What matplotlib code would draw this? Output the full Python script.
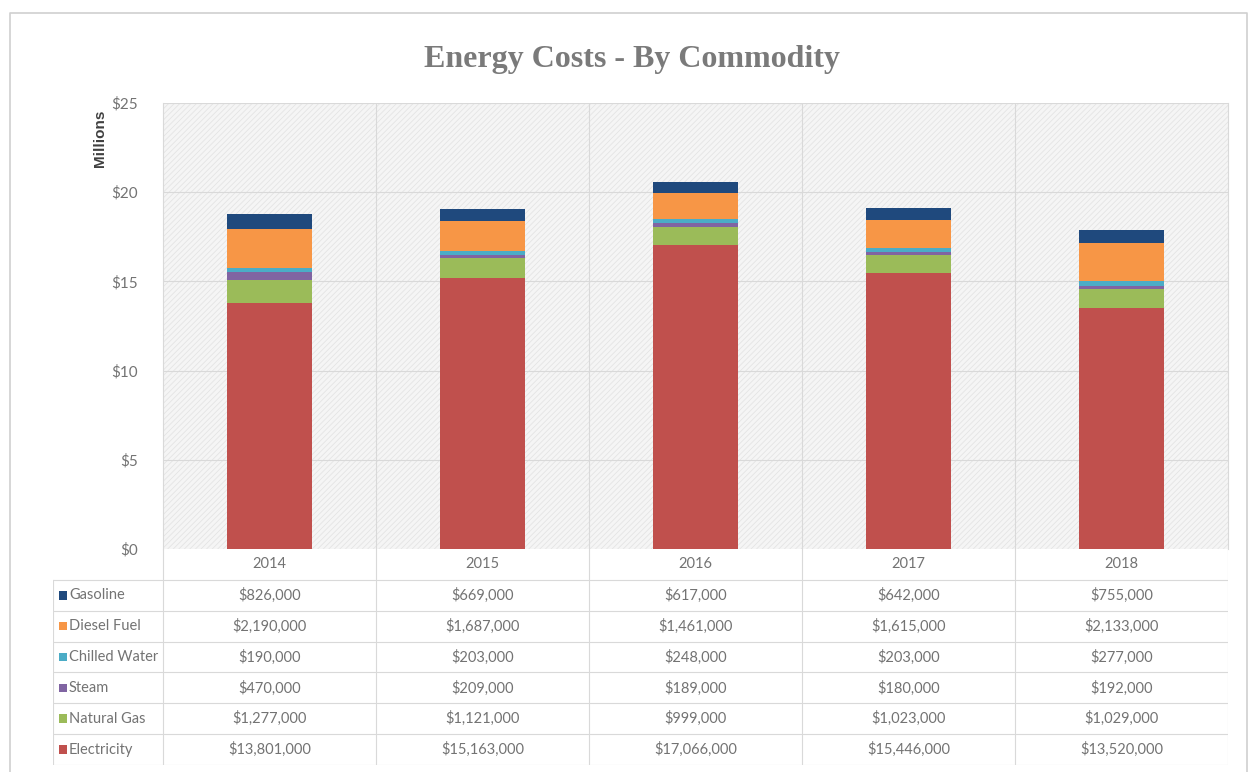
import numpy as np
import matplotlib.pyplot as plt
from matplotlib.patches import Rectangle

plt.rcParams['font.family'] = ['Lato', 'DejaVu Sans']
plt.rcParams['hatch.linewidth'] = 0.6

years = ['2014', '2015', '2016', '2017', '2018']
electricity = [13801000, 15163000, 17066000, 15446000, 13520000]
natural_gas = [1277000, 1121000, 999000, 1023000, 1029000]
steam = [470000, 209000, 189000, 180000, 192000]
chilled_water = [190000, 203000, 248000, 203000, 277000]
diesel_fuel = [2190000, 1687000, 1461000, 1615000, 2133000]
gasoline = [826000, 669000, 617000, 642000, 755000]

# stacking order, bottom to top
series = [
    ('Electricity', electricity, '#C0504D'),
    ('Natural Gas', natural_gas, '#9BBB59'),
    ('Steam', steam, '#8064A2'),
    ('Chilled Water', chilled_water, '#4BACC6'),
    ('Diesel Fuel', diesel_fuel, '#F79646'),
    ('Gasoline', gasoline, '#1F497D'),
]

W, H = 1252, 772
fig = plt.figure(figsize=(W / 100, H / 100), dpi=100)


def box(x0, y0, x1, y1):
    # pixel box (top-left origin) -> figure rect
    return [x0 / W, 1 - y1 / H, (x1 - x0) / W, (y1 - y0) / H]


grid_c = '#d9d9d9'
text_c = '#737373'

# outer chart border
border = fig.add_axes([0, 0, 1, 1], zorder=-5)
border.set_xlim(0, W)
border.set_ylim(H, 0)
border.axis('off')
border.plot([10, 10, 1247, 1247], [790, 13, 13, 790], color='#d0d0d0', lw=1.2)

# bar chart
ax = fig.add_axes(box(163, 103, 1228, 549))
x = np.arange(len(years))
ax.add_patch(Rectangle((0, 0), 1, 1, transform=ax.transAxes, facecolor='#f5f5f5',
                       edgecolor='#e4e4e4', hatch='//////', lw=0, zorder=0))
bottom = np.zeros(len(years))
for name, vals, col in series:
    v = np.array(vals) / 1e6
    ax.bar(x, v, width=0.4, bottom=bottom, color=col, zorder=3)
    bottom += v

ax.set_xlim(-0.5, len(years) - 0.5)
ax.set_ylim(0, 25)
ax.set_yticks(np.arange(0, 26, 5))
ax.set_yticklabels(['$%d' % t for t in range(0, 26, 5)], color=text_c, fontsize=11)
ax.tick_params(axis='y', length=0, pad=18)
ax.set_xticks([])
for t in range(5, 26, 5):
    ax.axhline(t, color=grid_c, lw=0.8, zorder=1)
for b in np.arange(0.5, len(years) - 0.5, 1):
    ax.axvline(b, color=grid_c, lw=0.8, zorder=1)
for s in ax.spines.values():
    s.set_visible(False)
ax.spines['left'].set_visible(True)
ax.spines['left'].set_color(grid_c)
ax.spines['right'].set_visible(True)
ax.spines['right'].set_color(grid_c)

fig.text(100 / W, 1 - 138 / H, 'Millions', rotation=90, ha='center', va='center',
         fontsize=11, fontweight='bold', color='#404040', family=['Liberation Sans', 'DejaVu Sans'])

fig.text(632 / W, 1 - 60 / H, 'Energy Costs - By Commodity', ha='center', va='center',
         fontsize=23, fontweight='bold', color='#7a7a7a',
         family=['Liberation Serif', 'DejaVu Serif'])

# data table under the bars
lab_w = (163 - 53) / ((1228 - 163) / len(years))
tax = fig.add_axes(box(53, 549, 1228, 765))
tax.set_xlim(-0.5 - lab_w, len(years) - 0.5)
nrows = len(series) + 1
tax.set_ylim(nrows, 0)
tax.axis('off')

# vertical lines
for b in np.arange(-0.5, len(years), 1):
    tax.plot([b, b], [0, nrows], color=grid_c, lw=0.8)
tax.plot([-0.5 - lab_w] * 2, [1, nrows], color=grid_c, lw=0.8)
# horizontal lines
for r in range(1, nrows + 1):
    tax.plot([-0.5 - lab_w, len(years) - 0.5], [r, r], color=grid_c, lw=0.8)

for i, yr in enumerate(years):
    tax.text(i, 0.5, yr, ha='center', va='center', fontsize=10.5, color=text_c)

for r, (name, vals, col) in enumerate(reversed(series)):
    yc = r + 1.5
    tax.add_patch(Rectangle((-0.5 - lab_w + 0.03, yc - 0.14), 0.036, 0.28,
                            facecolor=col, edgecolor='none'))
    tax.text(-0.5 - lab_w + 0.075, yc, name, ha='left', va='center',
             fontsize=10.5, color=text_c)
    for i, v in enumerate(vals):
        tax.text(i, yc, '${:,}'.format(v), ha='center', va='center',
                 fontsize=10.5, color=text_c)

fig.savefig('out.png', dpi=100)
